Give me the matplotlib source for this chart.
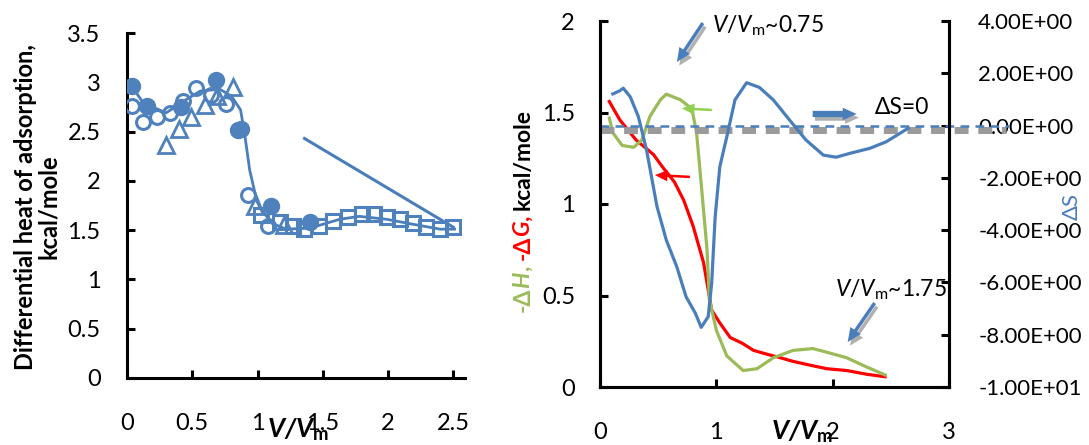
import matplotlib
matplotlib.use("Agg")
import matplotlib.pyplot as plt
import numpy as np

plt.rcParams['font.family'] = ['Lato', 'DejaVu Sans']
plt.rcParams['mathtext.fontset'] = 'custom'
plt.rcParams['mathtext.rm'] = 'Lato'
plt.rcParams['mathtext.it'] = 'Lato:italic'
plt.rcParams['mathtext.bf'] = 'Lato:bold'
plt.rcParams['mathtext.bfit'] = 'Lato:italic:bold'

# ---------------- left panel data ----------------
fc_x = [0.04, 0.15, 0.41, 0.68, 0.85, 0.87, 1.10, 1.40]
fc_y = [2.96, 2.76, 2.75, 3.02, 2.52, 2.53, 1.75, 1.58]
oc_x = [0.04, 0.12, 0.23, 0.33, 0.43, 0.53, 0.64, 0.76, 0.93, 1.08]
oc_y = [2.76, 2.60, 2.65, 2.69, 2.81, 2.94, 2.87, 2.78, 1.86, 1.54]
tri_x = [0.30, 0.40, 0.49, 0.60, 0.69, 0.81, 0.98, 1.20]
tri_y = [2.36, 2.53, 2.65, 2.77, 2.86, 2.95, 1.75, 1.55]
sq_x = [1.03, 1.17, 1.27, 1.36, 1.47, 1.58, 1.69, 1.80, 1.89, 1.99, 2.09, 2.19, 2.29, 2.40, 2.50]
sq_y = [1.65, 1.58, 1.54, 1.51, 1.54, 1.59, 1.63, 1.66, 1.66, 1.63, 1.61, 1.57, 1.53, 1.51, 1.53]
fit_x = [0.036, 0.125, 0.30, 0.46, 0.56, 0.71, 0.80, 0.87, 0.90, 0.94, 0.98, 1.03, 1.11,
         1.22, 1.40, 1.63, 1.78, 1.99, 2.19, 2.40, 2.51]
fit_y = [2.96, 2.79, 2.69, 2.83, 2.91, 2.93, 2.86, 2.72, 2.49, 2.11, 1.88, 1.71, 1.57,
         1.51, 1.52, 1.61, 1.64, 1.61, 1.56, 1.51, 1.51]
line_x = [1.36, 2.50]
line_y = [2.43, 1.53]
left_xticks = [0, 0.5, 1, 1.5, 2, 2.5]
left_yticks = [0, 0.5, 1, 1.5, 2, 2.5, 3, 3.5]

# ---------------- right panel data ----------------
g_x = [0.08, 0.17, 0.31, 0.46, 0.54, 0.64, 0.72, 0.80, 0.89, 0.96, 1.03, 1.12, 1.22,
       1.32, 1.43, 1.55, 1.66, 1.80, 1.95, 2.12, 2.29, 2.45]
g_y = [1.56, 1.46, 1.35, 1.27, 1.20, 1.12, 1.02, 0.88, 0.68, 0.42, 0.35, 0.27, 0.24,
       0.20, 0.18, 0.16, 0.14, 0.12, 0.10, 0.09, 0.07, 0.056]
h_x = [0.08, 0.11, 0.19, 0.29, 0.36, 0.43, 0.52, 0.57, 0.69, 0.79, 0.83, 0.87, 0.92,
       0.94, 1.00, 1.09, 1.23, 1.35, 1.49, 1.66, 1.83, 1.95, 2.12, 2.29, 2.45]
h_y = [1.47, 1.39, 1.32, 1.31, 1.35, 1.48, 1.57, 1.60, 1.57, 1.52, 1.39, 1.11, 0.75,
       0.48, 0.31, 0.17, 0.09, 0.10, 0.16, 0.20, 0.21, 0.19, 0.16, 0.11, 0.066]
s_x = [0.11, 0.17, 0.20, 0.26, 0.33, 0.40, 0.49, 0.57, 0.66, 0.74, 0.82, 0.87, 0.93,
       0.96, 0.99, 1.03, 1.09, 1.16, 1.26, 1.37, 1.49, 1.63, 1.77, 1.92, 2.03, 2.15,
       2.32, 2.46, 2.65]
s_y = [1.21, 1.33, 1.43, 1.10, 0.34, -0.93, -3.10, -4.38, -5.40, -6.55, -7.18, -7.72,
       -7.31, -6.03, -3.49, -1.57, -0.43, 0.98, 1.64, 1.46, 0.98, 0.21, -0.55, -1.13,
       -1.21, -1.06, -0.87, -0.62, -0.10]
right_xticks = [0, 1, 2, 3]
right_yticks = [0, 0.5, 1, 1.5, 2]
ds_ticks = [4, 2, 0, -2, -4, -6, -8, -10]

BLUE = '#4A7EBB'
BLUE_M = '#4F81BD'
GREEN = '#9BBB59'
GREEN_A = '#92D050'
RED = '#FF0000'

W, H = 1089, 445
fig = plt.figure(figsize=(W / 100, H / 100), dpi=100)

def fx(px):
    return px / W

def fy(py):
    return 1 - py / H

# ================= LEFT PANEL =================
ax1 = fig.add_axes([fx(127), fy(378), (465 - 127) / W, (378 - 33) / H])
ax1.plot(fit_x, fit_y, color=BLUE, lw=2.0, zorder=2)
ax1.plot(line_x, line_y, color=BLUE, lw=2.2, zorder=2)
ax1.plot(sq_x, sq_y, ls='none', marker='s', ms=10, mfc='none', mec=BLUE_M, mew=2.2, zorder=3)
ax1.plot(tri_x, tri_y, ls='none', marker='^', ms=11, mfc='none', mec=BLUE_M, mew=2.0, zorder=3)
ax1.plot(oc_x, oc_y, ls='none', marker='o', ms=10, mfc='none', mec=BLUE_M, mew=2.2, zorder=3)
ax1.plot(fc_x, fc_y, ls='none', marker='o', ms=11.5, mfc=BLUE_M, mec=BLUE_M, zorder=4)
ax1.set_xlim(0, 2.59)
ax1.set_ylim(0, 3.5)
ax1.set_xticks(left_xticks)
ax1.set_xticklabels(['0', '0.5', '1', '1.5', '2', '2.5'])
ax1.set_yticks(left_yticks)
ax1.set_yticklabels(['0', '0.5', '1', '1.5', '2', '2.5', '3', '3.5'])
for side in ['top', 'right']:
    ax1.spines[side].set_visible(False)
for side in ['left', 'bottom']:
    ax1.spines[side].set_linewidth(2.2)
ax1.tick_params(axis='both', direction='in', length=6, width=2.2, labelsize=17)
ax1.tick_params(axis='y', pad=19)
ax1.tick_params(axis='x', pad=25)

fig.text(fx(37), fy(207), 'Differential heat of adsorption,\nkcal/mole', rotation=90,
         ha='center', va='center', fontsize=17, fontweight='bold', linespacing=1.05)
fig.text(fx(298), fy(430), r'$\mathbfit{V/V}_{\mathbf{m}}$', ha='center', va='center',
         fontsize=19)

# ================= RIGHT PANEL =================
ax2 = fig.add_axes([fx(600), fy(387), (949 - 600) / W, (387 - 21) / H])
ax3 = ax2.twinx()
ax2.plot(g_x, g_y, color=RED, lw=2.3, zorder=3)
ax2.plot(h_x, h_y, color=GREEN, lw=2.3, zorder=3)
ax3.plot(s_x, s_y, color=BLUE, lw=2.3, zorder=3)
ax2.set_xlim(0, 3)
ax2.set_ylim(0, 2)
ax3.set_ylim(-10, 4)
ax2.set_xticks(right_xticks)
ax2.set_xticklabels(['0', '1', '2', '3'])
ax2.set_yticks(right_yticks)
ax2.set_yticklabels(['0', '0.5', '1', '1.5', '2'])
ax3.set_yticks(ds_ticks)
ax3.set_yticklabels(['%.2E' % v for v in ds_ticks])
for a in (ax2, ax3):
    a.spines['top'].set_visible(False)
    for side in ['left', 'bottom', 'right']:
        a.spines[side].set_linewidth(2.2)
ax2.tick_params(axis='both', direction='in', length=6, width=2.2, labelsize=17)
ax2.tick_params(axis='y', pad=18)
ax2.tick_params(axis='x', pad=25)
ax3.tick_params(axis='y', direction='in', length=6, width=2.2, labelsize=16, pad=21)

# dashed reference lines (delta S = 0) extending past the right axis
ax3.plot([0, 3.49], [-0.17, -0.17], color='#9A9A9A', lw=5, dashes=(2.0, 1.4),
         clip_on=False, zorder=2, solid_capstyle='butt', dash_capstyle='butt')
ax3.plot([0, 3.52], [0, 0], color=BLUE, lw=1.8, dashes=(3.5, 2.5), clip_on=False, zorder=2)

def shadow_arrow(ax, tail, head, color, hw, hl, tw, shadow=True):
    style = 'simple,head_width=%g,head_length=%g,tail_width=%g' % (hw, hl, tw)
    if shadow:
        ax.annotate('', xy=(head[0] + 0.02, head[1] - 0.02),
                    xytext=(tail[0] + 0.02, tail[1] - 0.02),
                    arrowprops=dict(arrowstyle=style, color='#B0B0B0', lw=0,
                                    shrinkA=0, shrinkB=0), annotation_clip=False)
    ax.annotate('', xy=head, xytext=tail,
                arrowprops=dict(arrowstyle=style, color=color, lw=0,
                                shrinkA=0, shrinkB=0), annotation_clip=False)

shadow_arrow(ax2, (0.884, 1.989), (0.661, 1.776), BLUE, 0.9, 1.0, 0.25)
shadow_arrow(ax2, (1.828, 1.492), (2.206, 1.492), BLUE, 0.9, 1.0, 0.45)
shadow_arrow(ax2, (2.361, 0.459), (2.129, 0.246), BLUE, 0.9, 1.0, 0.25)
shadow_arrow(ax2, (0.961, 1.514), (0.704, 1.522), GREEN_A, 0.8, 0.9, 0.18, shadow=False)
shadow_arrow(ax2, (0.773, 1.148), (0.472, 1.158), RED, 0.8, 0.9, 0.18, shadow=False)

ax2.text(0.965, 1.975, r'$V/V_{\mathrm{m}}$~0.75', fontsize=16.5, ha='left', va='center',
         clip_on=False)
ax2.text(2.36, 1.53, 'ΔS=0', fontsize=16.5, ha='left', va='center', clip_on=False)
ax2.text(2.02, 0.53, r'$V/V_{\mathrm{m}}$~1.75', fontsize=16.5, ha='left', va='center',
         clip_on=False)

fig.text(fx(802), fy(432), r'$\mathbfit{V/V}_{\mathbf{m}}$', ha='center', va='center',
         fontsize=19)
fig.text(fx(1072), fy(207), 'ΔS', rotation=90, ha='center', va='center', fontsize=16,
         color=BLUE)

# multi-coloured rotated y-label for right panel
renderer = fig.canvas.get_renderer()
pieces = [('-Δ', GREEN, 'normal'), ('H', GREEN, 'italic'), (', ', GREEN, 'normal'),
          ('-Δ', RED, 'normal'), ('G', RED, 'italic'), (', ', RED, 'normal'),
          ('kcal/mole', 'black', 'normal')]
ycur = 312
for txt, col, sty in pieces:
    t = fig.text(fx(523), fy(ycur), txt, rotation=90, ha='center', va='bottom',
                 fontsize=16.5, fontweight='bold', color=col, fontstyle=sty)
    bb = t.get_window_extent(renderer)
    ycur -= bb.height

fig.savefig('out.png', dpi=100)
